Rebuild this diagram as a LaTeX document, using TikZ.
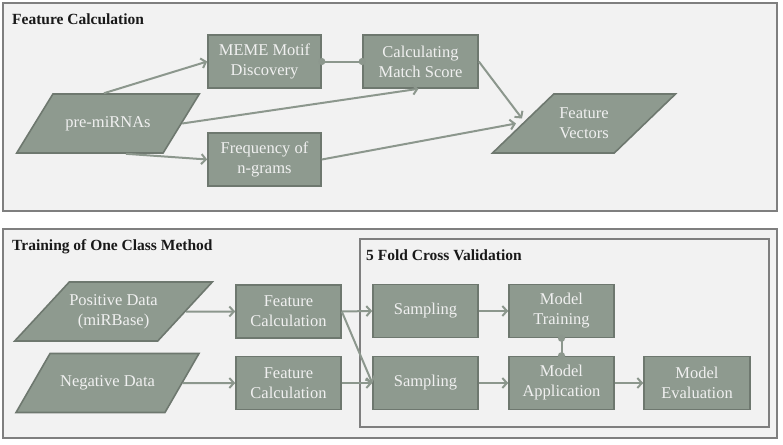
\documentclass[tikz,border=0pt]{standalone}
\usepackage{fontspec}
\setmainfont{Liberation Serif}
\usepackage{tikz}
\usetikzlibrary{shapes.geometric, arrows.meta, positioning, calc}
\definecolor{boxfill}{HTML}{8E9A8F}
\definecolor{boxline}{HTML}{6E786F}
\definecolor{arrowgray}{HTML}{8C978D}
\definecolor{panelfill}{HTML}{F2F2F2}
\definecolor{panelline}{HTML}{7F7F7F}
\definecolor{boxtext}{HTML}{F0F0F0}
\tikzset{
    panel_frame/.style={
        rectangle, draw=panelline, fill=panelfill, line width=2pt, inner sep=0pt
    },
    panel_title/.style={
        anchor=west, inner sep=0pt, font=\rmfamily\fontsize{15.5}{18}\selectfont\bfseries, text=black!90
    },
    box_step/.style={
        rectangle, draw=boxline, fill=boxfill, line width=1.6pt,
        minimum width=105pt, minimum height=53pt,
        align=center, text=boxtext, font=\rmfamily\fontsize{16.5}{20}\selectfont
    },
    box_data/.style={
        trapezium, trapezium left angle=37, trapezium right angle=143, trapezium stretches=true,
        draw=boxline, fill=boxfill, line width=1.6pt, inner xsep=0pt,
        minimum width=183pt, minimum height=59pt,
        align=center, text=boxtext, font=\rmfamily\fontsize{16.5}{20}\selectfont
    },
    flow_arrow/.style={
        -{Straight Barb[length=4.5pt,width=10pt]}, draw=arrowgray, line width=2pt
    },
    link_dots/.style={
        {Circle[length=7pt,sep=-3.5pt]}-{Circle[length=7pt,sep=-3.5pt]}, draw=arrowgray, line width=2pt
    }
}
\begin{document}
\begin{tikzpicture}[x=1pt, y=-1pt]

    \useasboundingbox (0,0) rectangle (783,444);

    % --- Panel 1: Feature Calculation ---
    \node[panel_frame, minimum width=774pt, minimum height=208pt] (featpanel) at (390,107) {};
    \node[panel_title] (feattitle) at (12,19) {Feature Calculation};

    \node[box_data] (premirna) at (108,123.5) {pre-miRNAs};
    \node[box_step, minimum width=113pt] (meme) at (264.5,61.5) {MEME Motif\\Discovery};
    \node[box_step, minimum width=115pt] (matchscore) at (420.5,61.5) {Calculating\\Match Score};
    \node[box_step, minimum width=113pt] (ngrams) at (264.5,159.5) {Frequency of\\n-grams};
    \node[box_data] (featvec) at (584,123.5) {Feature\\Vectors};

    % --- Panel 2: Training of One Class Method ---
    \node[panel_frame, minimum width=774pt, minimum height=209pt] (trainpanel) at (390,333.5) {};
    \node[panel_title] (traintitle) at (12,247) {Training of One Class Method};

    % --- Inner panel: cross validation ---
    \node[panel_frame, minimum width=409pt, minimum height=188pt] (cvpanel) at (564.5,333) {};
    \node[panel_title] (cvtitle) at (366,255) {5 Fold Cross Validation};

    \node[box_data] (posdata) at (113.5,311.5) {Positive Data\\(miRBase)};
    \node[box_data] (negdata) at (107.5,383) {Negative Data};
    \node[box_step] (featcalc_pos) at (288.5,311.5) {Feature\\Calculation};
    \node[box_step] (featcalc_neg) at (288.5,383) {Feature\\Calculation};
    \node[box_step] (sampling_a) at (425.5,311) {Sampling};
    \node[box_step] (sampling_b) at (425.5,383) {Sampling};
    \node[box_step] (training) at (561.5,311) {Model\\Training};
    \node[box_step] (application) at (561.5,383) {Model\\Application};
    \node[box_step, minimum width=106pt] (evaluation) at (697,383) {Model\\Evaluation};

    % --- connectors, top panel ---
    \draw[flow_arrow] ([xshift=-4pt]premirna.north) -- (meme.west);
    \draw[flow_arrow] (premirna.east) -- ([xshift=-2pt]matchscore.south);
    \draw[flow_arrow] ([xshift=18pt]premirna.south) -- (ngrams.west);
    \draw[link_dots] (meme.east) -- (matchscore.west);
    \draw[flow_arrow] (matchscore.east) -- ([yshift=5pt]featvec.west);
    \draw[flow_arrow] (ngrams.east) -- ([xshift=-6pt]featvec.west);

    % --- connectors, bottom panel ---
    \draw[flow_arrow] (posdata.east) -- (featcalc_pos.west);
    \draw[flow_arrow] (negdata.east) -- (featcalc_neg.west);
    \draw[flow_arrow] (featcalc_pos.east) -- (sampling_a.west);
    \draw[flow_arrow] (featcalc_pos.east) -- (sampling_b.west);
    \draw[flow_arrow] (featcalc_neg.east) -- (sampling_b.west);
    \draw[flow_arrow] (sampling_a.east) -- (training.west);
    \draw[flow_arrow] (sampling_b.east) -- (application.west);
    \draw[link_dots] (training.south) -- (application.north);
    \draw[flow_arrow] (application.east) -- (evaluation.west);

\end{tikzpicture}
\end{document}
